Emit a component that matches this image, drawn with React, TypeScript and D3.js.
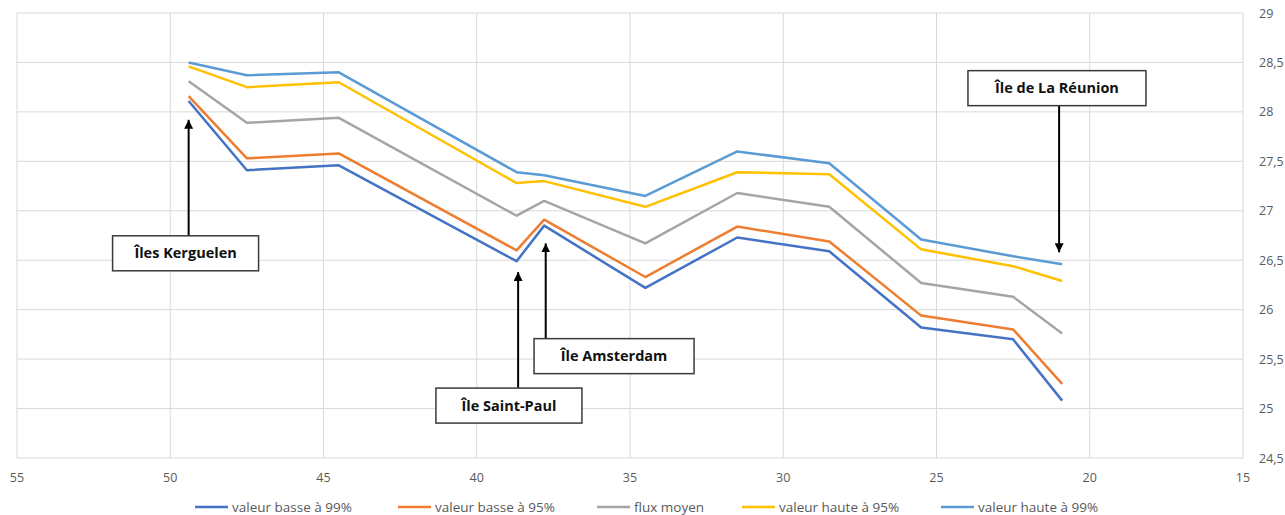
import React from "react";
import * as d3 from "d3";

// Latitudes (°S) of the sampled points
const latitudes = [49.4, 47.5, 44.5, 38.7, 37.8, 34.5, 31.5, 28.5, 25.5, 22.5, 20.9];

const basse99 = [28.11, 27.41, 27.46, 26.49, 26.85, 26.22, 26.73, 26.59, 25.82, 25.70, 25.08];
const basse95 = [28.16, 27.53, 27.58, 26.60, 26.91, 26.33, 26.84, 26.69, 25.94, 25.80, 25.25];
const fluxMoyen = [28.31, 27.89, 27.94, 26.95, 27.10, 26.67, 27.18, 27.04, 26.27, 26.13, 25.76];
const haute95 = [28.46, 28.25, 28.30, 27.28, 27.30, 27.04, 27.39, 27.37, 26.61, 26.44, 26.29];
const haute99 = [28.50, 28.37, 28.40, 27.39, 27.36, 27.15, 27.60, 27.48, 26.71, 26.54, 26.46];

const seriesNames = ["valeur basse à 99%", "valeur basse à 95%", "flux moyen", "valeur haute à 95%", "valeur haute à 99%"];
const seriesValues = [basse99, basse95, fluxMoyen, haute95, haute99];
const seriesColors = ["#4472C4", "#ED7D31", "#A5A5A5", "#FFC000", "#5B9BD5"];

const xTicks = [55, 50, 45, 40, 35, 30, 25, 20, 15];
const yTicks = [24.5, 25, 25.5, 26, 26.5, 27, 27.5, 28, 28.5, 29];

// annotations: label, arrow x (lat), arrow tip value, arrow base value, box center (lat, value)
const annLabels = ["Îles Kerguelen", "Île Saint-Paul", "Île Amsterdam", "Île de La Réunion"];
const annLat = [49.4, 38.65, 37.75, 21.0];
const annTip = [27.92, 26.38, 26.67, 26.58];
const annBase = [26.72, 25.21, 25.70, 28.06];
const annBoxLat = [49.5, 38.95, 35.52, 21.07];
const annBoxVal = [26.57, 25.03, 25.53, 28.24];
const annBoxW = [146, 146, 160, 178];

const W = 1285;
const H = 515;

export default function App() {
  const x = d3.scaleLinear().domain([55, 15]).range([17, 1243]);
  const y = d3.scaleLinear().domain([24.5, 29]).range([458, 13]);
  const line = d3
    .line<[number, number]>()
    .x((d) => x(d[0]))
    .y((d) => y(d[1]));

  const font = "'Open Sans', 'Liberation Sans', sans-serif";
  const legendX = [195, 398, 597, 742, 941];

  return (
    <div style={{ position: "absolute", left: 0, top: 0 }}>
      <svg width={W} height={H} style={{ display: "block", background: "#fff" }}>
        <defs>
          <marker id="arrow" viewBox="0 0 10 10" refX="10" refY="5" markerWidth="4.5" markerHeight="4.5" orient="auto">
            <path d="M0,0 L10,5 L0,10 z" fill="#000" />
          </marker>
        </defs>
        {/* grid */}
        {yTicks.map((t) => (
          <line key={"gy" + t} x1={x(55)} x2={x(15)} y1={y(t)} y2={y(t)} stroke="#d9d9d9" strokeWidth={1} />
        ))}
        {xTicks.map((t) => (
          <line key={"gx" + t} x1={x(t)} x2={x(t)} y1={y(29)} y2={y(24.5)} stroke="#d9d9d9" strokeWidth={1} />
        ))}
        {/* axis labels */}
        {xTicks.map((t) => (
          <text key={"tx" + t} x={x(t)} y={482} textAnchor="middle" fontFamily={font} fontSize={12.5} fill="#595959">
            {String(t)}
          </text>
        ))}
        {yTicks.map((t) => (
          <text key={"ty" + t} x={1259} y={y(t) + 4.5} textAnchor="start" fontFamily={font} fontSize={12.5} fill="#595959">
            {String(t).replace(".", ",")}
          </text>
        ))}
        {/* series */}
        {seriesValues.map((vals, i) => (
          <path
            key={"s" + i}
            d={line(latitudes.map((l, j) => [l, vals[j]] as [number, number])) || ""}
            fill="none"
            stroke={seriesColors[i]}
            strokeWidth={2.5}
            strokeLinejoin="round"
          />
        ))}
        {/* annotations */}
        {annLabels.map((lab, i) => {
          const bx = x(annBoxLat[i]);
          const by = y(annBoxVal[i]);
          const bw = annBoxW[i];
          const bh = 35;
          return (
            <g key={"a" + i}>
              <line
                x1={x(annLat[i])}
                x2={x(annLat[i])}
                y1={y(annBase[i])}
                y2={y(annTip[i])}
                stroke="#000"
                strokeWidth={2}
                markerEnd="url(#arrow)"
              />
              <rect x={bx - bw / 2} y={by - bh / 2} width={bw} height={bh} fill="#fff" stroke="#3a3a3a" strokeWidth={1.5} />
              <text x={bx} y={by + 5} textAnchor="middle" fontFamily={font} fontWeight="bold" fontSize={14.5} fill="#111">
                {lab}
              </text>
            </g>
          );
        })}
        {/* legend */}
        {seriesNames.map((n, i) => (
          <g key={"l" + i}>
            <line x1={legendX[i]} x2={legendX[i] + 33} y1={507} y2={507} stroke={seriesColors[i]} strokeWidth={2.5} />
            <text x={legendX[i] + 37} y={511.5} fontFamily={font} fontSize={13.5} fill="#595959">
              {n}
            </text>
          </g>
        ))}
      </svg>
    </div>
  );
}
